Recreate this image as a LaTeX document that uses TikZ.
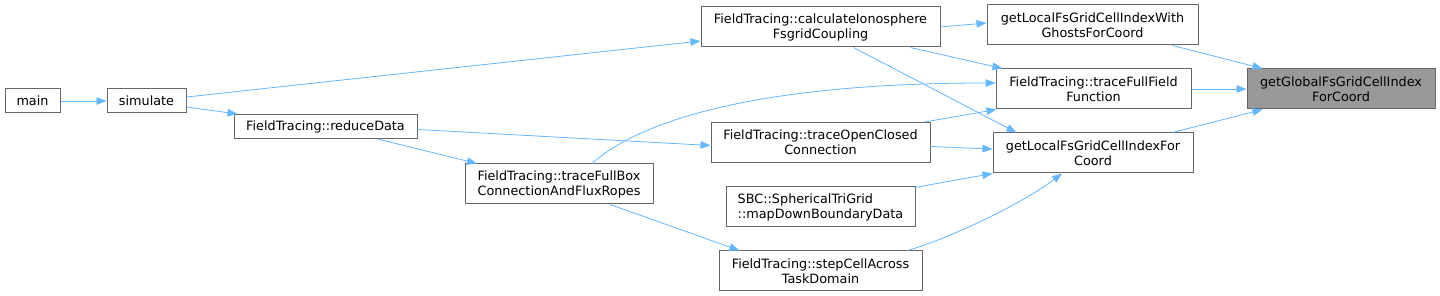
\documentclass[tikz,border=0pt]{standalone}
\usepackage{fontspec}
\setmainfont{DejaVu Sans}
\usetikzlibrary{arrows.meta}
\definecolor{edgec}{HTML}{63B8FF}
\definecolor{bordc}{HTML}{666666}
\definecolor{hlc}{HTML}{999999}
\begin{document}
\begin{tikzpicture}[x=1pt,y=-1pt,
  box/.style={draw=bordc, line width=1pt, fill=white, inner sep=0pt, align=center,
    font=\fontsize{12.8}{15}\selectfont, minimum height=40pt},
  onebox/.style={box, minimum height=24pt},
  arr/.style={draw=edgec, line width=0.8pt, -{Triangle[length=10pt,width=7.5pt]}}]
\useasboundingbox (0,0) rectangle (1440,296);
\fill[white] (0,0) rectangle (1440,296);
% nodes
\node[onebox, minimum width=55pt] (main) at (32.5,101) {main};
\node[onebox, minimum width=79pt] (sim) at (146.5,101) {simulate};
\node[onebox, minimum width=183pt] (red) at (325.5,126.5) {FieldTracing::reduceData};
\node[box, minimum width=188pt] (tfb) at (559,184) {FieldTracing::traceFullBox\\ConnectionAndFluxRopes};
\node[box, minimum width=239pt] (calc) at (820.5,27) {FieldTracing::calculateIonosphere\\FsgridCoupling};
\node[box, minimum width=219pt] (toc) at (820.5,142.5) {FieldTracing::traceOpenClosed\\Connection};
\node[box, minimum width=189pt, align=left] (sbc) at (820.5,207) {SBC::SphericalTriGrid\\::mapDownBoundaryData};
\node[box, minimum width=203pt] (step) at (820.5,271) {FieldTracing::stepCellAcross\\TaskDomain};
\node[box, minimum width=211pt] (ghost) at (1092.5,25) {getLocalFsGridCellIndexWith\\GhostsForCoord};
\node[box, minimum width=195pt] (tff) at (1093.5,89) {FieldTracing::traceFullField\\Function};
\node[box, minimum width=200pt] (loc) at (1093,153) {getLocalFsGridCellIndexFor\\Coord};
\node[box, minimum width=188pt, fill=hlc] (glob) at (1341,89) {getGlobalFsGridCellIndex\\ForCoord};
% edges
\draw[arr] (main.east) -- (sim.west);
\draw[arr] ([yshift=4pt]sim.east) -- ([yshift=-14pt]calc.west);
\draw[arr] ([yshift=-6pt]sim.east) -- ([xshift=4pt]red.north west);
\draw[arr] ([yshift=-3pt]red.east) -- ([yshift=-3pt]toc.west);
\draw[arr] ([xshift=52pt]red.south) -- ([xshift=-82pt]tfb.north);
\draw[arr] ([xshift=33pt]tfb.north) .. controls (640,120) and (760,83) .. ([yshift=6pt]tff.west);
\draw[arr] ([xshift=51pt]tfb.south) -- ([xshift=21pt]step.north west);
\draw[arr] (calc.east) -- ([yshift=2pt]ghost.west);
\draw[arr] ([xshift=-30pt]calc.south east) -- ([xshift=7pt]tff.north west);
\draw[arr] ([xshift=33pt]calc.south) -- ([xshift=24pt]loc.north west);
\draw[arr] ([xshift=-6pt]toc.north east) -- ([xshift=1pt]tff.south west);
\draw[arr] ([yshift=-4pt]toc.east) -- ([yshift=4pt]loc.west);
\draw[arr] ([xshift=-1pt, yshift=-1pt]sbc.north east) -- (loc.south west);
\draw[arr] ([xshift=-15pt]step.north east) .. controls (950,238) and (1020,205) .. ([xshift=-31pt]loc.south);
\draw[arr] ([xshift=-26pt]ghost.south east) -- ([xshift=16pt]glob.north west);
\draw[arr] (tff.east) -- (glob.west);
\draw[arr] ([xshift=-21pt]loc.north east) -- ([xshift=16pt]glob.south west);
\end{tikzpicture}
\end{document}
